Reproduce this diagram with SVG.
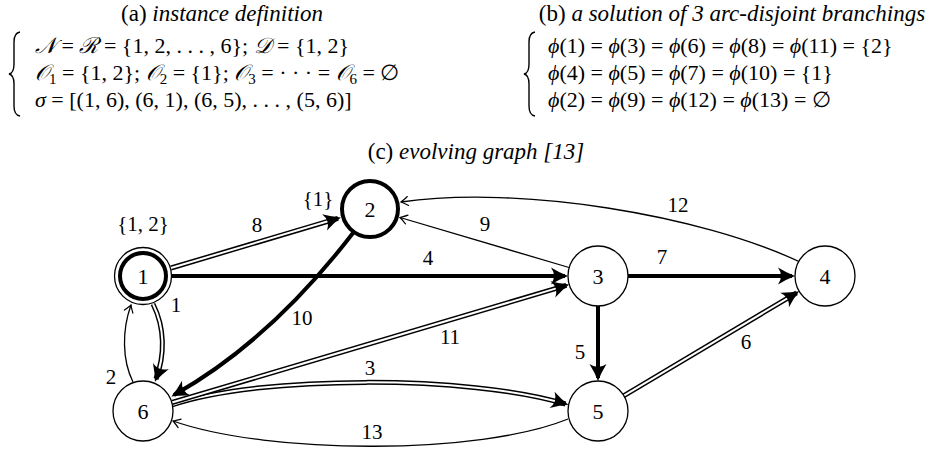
<svg xmlns="http://www.w3.org/2000/svg" width="941" height="450" viewBox="0 0 941 450">
<style>
.nd{fill:#fff;stroke:#000;stroke-width:1.3}
.nk{fill:#fff;stroke:#000;stroke-width:4}
.thick{fill:none;stroke:#000;stroke-width:4}
.thin{fill:none;stroke:#000;stroke-width:1.3}
.dblo{fill:none;stroke:#000;stroke-width:5}
.dbli{fill:none;stroke:#fff;stroke-width:2}
.brace{fill:none;stroke:#000;stroke-width:1.4}
.hb{fill:#000}
.hs{fill:none;stroke:#000;stroke-width:1.2;stroke-linecap:round}
</style>
<defs>
<path id="bighead" d="M3,0 Q-5,-3 -14,-8.5 Q-8,0 -14,8.5 Q-5,3 3,0 Z"/>
<path id="smhead" d="M-7,-4.5 Q-2,-1 0,0 Q-2,1 -7,4.5"/>
</defs>

<g id="texts">
<text font-family="Liberation Serif" font-size="23" x="222" y="21" text-anchor="middle">(a) <tspan font-style="italic">instance definition</tspan></text>
<text font-family="Liberation Serif" font-size="23" x="732" y="21" text-anchor="middle">(b) <tspan font-style="italic">a solution of 3 arc-disjoint branchings</tspan></text>
<text font-family="Liberation Serif" font-size="23" x="476" y="159" text-anchor="middle">(c) <tspan font-style="italic">evolving graph [13]</tspan></text>
<path class="brace" d="M20,32 Q14,33 14,42 L14,64 Q14,73 9,74 Q14,75 14,84 L14,106 Q14,115 20,116"/>
<text font-family="Liberation Serif" font-size="22" x="35" y="53"><tspan font-style="italic">𝒩</tspan> = <tspan font-style="italic">ℛ</tspan> = {1, 2, . . . , 6}; <tspan font-style="italic">𝒟</tspan> = {1, 2}</text>
<text font-family="Liberation Serif" font-size="22" x="35" y="80"><tspan font-style="italic">𝒪</tspan><tspan font-size="15" dy="4">1</tspan><tspan dy="-4"> = {1, 2}; </tspan><tspan font-style="italic">𝒪</tspan><tspan font-size="15" dy="4">2</tspan><tspan dy="-4"> = {1}; </tspan><tspan font-style="italic">𝒪</tspan><tspan font-size="15" dy="4">3</tspan><tspan dy="-4"> = · · · = </tspan><tspan font-style="italic">𝒪</tspan><tspan font-size="15" dy="4">6</tspan><tspan dy="-4"> = ∅</tspan></text>
<text font-family="Liberation Serif" font-size="22" x="35" y="107"><tspan font-style="italic">σ</tspan> = [(1, 6), (6, 1), (6, 5), . . . , (5, 6)]</text>
<path class="brace" d="M535,32 Q529,33 529,42 L529,64 Q529,73 524,74 Q529,75 529,84 L529,106 Q529,115 535,116"/>
<text font-family="Liberation Serif" font-size="22" x="548" y="53"><tspan font-style="italic">ϕ</tspan>(1) = <tspan font-style="italic">ϕ</tspan>(3) = <tspan font-style="italic">ϕ</tspan>(6) = <tspan font-style="italic">ϕ</tspan>(8) = <tspan font-style="italic">ϕ</tspan>(11) = {2}</text>
<text font-family="Liberation Serif" font-size="22" x="548" y="80"><tspan font-style="italic">ϕ</tspan>(4) = <tspan font-style="italic">ϕ</tspan>(5) = <tspan font-style="italic">ϕ</tspan>(7) = <tspan font-style="italic">ϕ</tspan>(10) = {1}</text>
<text font-family="Liberation Serif" font-size="22" x="548" y="107"><tspan font-style="italic">ϕ</tspan>(2) = <tspan font-style="italic">ϕ</tspan>(9) = <tspan font-style="italic">ϕ</tspan>(12) = <tspan font-style="italic">ϕ</tspan>(13) = ∅</text>
</g>

<g id="connectors">
<g id="e1">
<path class="dblo" d="M153,304 C165,328 165,355 156,379"/>
<path class="dbli" d="M153,304 C165,328 165,355 156,379"/>
<use href="#bighead" class="hb" transform="translate(156,379) rotate(110.56)"/>
<text font-family="Liberation Serif" font-size="21" text-anchor="middle" x="176" y="312">1</text>
</g>
<g id="e2">
<path class="thin" d="M133,382 C122,360 122,330 131,305"/>
<use href="#smhead" class="hs" transform="translate(131,305) rotate(-70.2)"/>
<text font-family="Liberation Serif" font-size="21" text-anchor="middle" x="111" y="384">2</text>
</g>
<g id="e3">
<path class="dblo" d="M172,405 C260,375 470,375 565.5,404"/>
<path class="dbli" d="M172,405 C260,375 470,375 565.5,404"/>
<use href="#bighead" class="hb" transform="translate(565.5,404) rotate(16.89)"/>
<text font-family="Liberation Serif" font-size="21" text-anchor="middle" x="370" y="375">3</text>
</g>
<g id="e4">
<path class="thick" d="M172,276 L565,276"/>
<use href="#bighead" class="hb" transform="translate(565,276)"/>
<text font-family="Liberation Serif" font-size="21" text-anchor="middle" x="428" y="265">4</text>
</g>
<g id="e5">
<path class="thick" d="M598,306 L598,378"/>
<use href="#bighead" class="hb" transform="translate(598,378) rotate(90)"/>
<text font-family="Liberation Serif" font-size="21" text-anchor="middle" x="580" y="359">5</text>
</g>
<g id="e6">
<path class="dblo" d="M624,395.7 L796.6,292.8"/>
<path class="dbli" d="M624,395.7 L796.6,292.8"/>
<use href="#bighead" class="hb" transform="translate(796.6,292.8) rotate(-30.8)"/>
<text font-family="Liberation Serif" font-size="21" text-anchor="middle" x="746" y="349">6</text>
</g>
<g id="e7">
<path class="thick" d="M628,276 L792,276"/>
<use href="#bighead" class="hb" transform="translate(792,276)"/>
<text font-family="Liberation Serif" font-size="21" text-anchor="middle" x="662" y="264">7</text>
</g>
<g id="e8">
<path class="dblo" d="M171,268 L338,218.3"/>
<path class="dbli" d="M171,268 L338,218.3"/>
<use href="#bighead" class="hb" transform="translate(338,218.3) rotate(-16.57)"/>
<text font-family="Liberation Serif" font-size="21" text-anchor="middle" x="257" y="232">8</text>
</g>
<g id="e9">
<path class="thin" d="M569,267.5 L400,217.5"/>
<use href="#smhead" class="hs" transform="translate(400,217.5) rotate(-163.52)"/>
<text font-family="Liberation Serif" font-size="21" text-anchor="middle" x="485" y="231">9</text>
</g>
<g id="e10">
<path class="thick" d="M353,233 Q270,341 174,395"/>
<use href="#bighead" class="hb" transform="translate(174,395) rotate(150.64)"/>
<text font-family="Liberation Serif" font-size="21" text-anchor="middle" x="302" y="325">10</text>
</g>
<g id="e11">
<path class="dblo" d="M172,402.5 L566.3,285.4"/>
<path class="dbli" d="M172,402.5 L566.3,285.4"/>
<use href="#bighead" class="hb" transform="translate(566.3,285.4) rotate(-16.54)"/>
<text font-family="Liberation Serif" font-size="21" text-anchor="middle" x="450" y="344">11</text>
</g>
<g id="e12">
<path class="thin" d="M800,262 C700,215 520,185 401,202"/>
<use href="#smhead" class="hs" transform="translate(401,202) rotate(171.87)"/>
<text font-family="Liberation Serif" font-size="21" text-anchor="middle" x="678" y="212">12</text>
</g>
<g id="e13">
<path class="thin" d="M568,419 C480,455 270,455 173,421"/>
<use href="#smhead" class="hs" transform="translate(173,421) rotate(-160.68)"/>
<text font-family="Liberation Serif" font-size="21" text-anchor="middle" x="372" y="439">13</text>
</g>
</g>

<g id="node1">
<circle class="nd" cx="143" cy="276" r="28.5"/>
<circle class="nk" cx="143" cy="276" r="23"/>
<text font-family="Liberation Serif" font-size="22" text-anchor="middle" x="143" y="283.5">1</text>
<text font-family="Liberation Serif" font-size="21" text-anchor="middle" x="143" y="231">{1, 2}</text>
</g>
<g id="node2">
<circle class="nk" cx="370" cy="209" r="28"/>
<text font-family="Liberation Serif" font-size="22" text-anchor="middle" x="370" y="216.5">2</text>
<text font-family="Liberation Serif" font-size="21" text-anchor="middle" x="318" y="206">{1}</text>
</g>
<g id="node3">
<circle class="nd" cx="598" cy="276" r="30"/>
<text font-family="Liberation Serif" font-size="22" text-anchor="middle" x="598" y="283.5">3</text>
</g>
<g id="node4">
<circle class="nd" cx="825" cy="276" r="30"/>
<text font-family="Liberation Serif" font-size="22" text-anchor="middle" x="825" y="283.5">4</text>
</g>
<g id="node5">
<circle class="nd" cx="598" cy="411" r="30"/>
<text font-family="Liberation Serif" font-size="22" text-anchor="middle" x="598" y="418.5">5</text>
</g>
<g id="node6">
<circle class="nd" cx="143" cy="411" r="30"/>
<text font-family="Liberation Serif" font-size="22" text-anchor="middle" x="143" y="418.5">6</text>
</g>
</svg>
